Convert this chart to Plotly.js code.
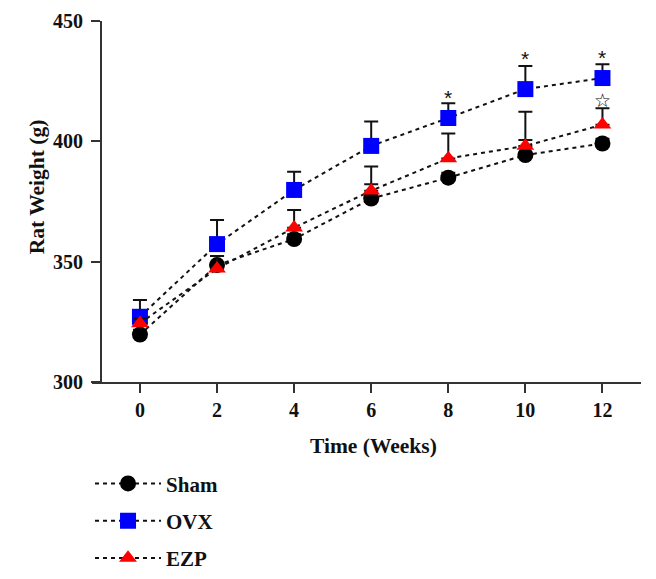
<!DOCTYPE html>
<html>
<head>
<meta charset="utf-8">
<script src="https://cdn.plot.ly/plotly-3.0.1.min.js"></script>
<style>html,body{margin:0;padding:0;background:#fff;}#chart{width:656px;height:579px;}</style>
</head>
<body>
<div id="chart"></div>
<script>
// ---- data ----
const weeks = [0, 2, 4, 6, 8, 10, 12];
const xTickLabels = ['0', '2', '4', '6', '8', '10', '12'];
const yTickVals = [300, 350, 400, 450];

const shamY   = [319.7, 348.6, 359.4, 376.2, 384.9, 394.3, 399.1];
const shamErr = [2, 3.8, 2, 6, 2, 6.3, 2];

const ovxY    = [327.1, 357.3, 379.8, 398.1, 409.7, 421.7, 426.3];
const ovxErr  = [7, 10, 7.6, 10.1, 6.1, 9.6, 5.7];

const ezpY    = [324.4, 347.1, 364.1, 379.5, 392.9, 398.1, 406.9];
const ezpErr  = [2, 5.3, 7.4, 10, 10.4, 14.2, 6.8];

const seriesNames = ['Sham', 'OVX', 'EZP'];

// significance marks
const sigX    = [8, 10, 12, 12];
const sigY    = [419.7, 435.9, 436.5, 417.2];
const sigText = ['*', '*', '*', '\u2606'];

// ---- styling ----
const serif = 'Liberation Serif, Times New Roman, serif';
const axisColor = '#333';
const lineStyle = {color: '#111', width: 2, dash: '4px,4px'};

function mk(name, y, err, symbol, color, size, group) {
  return {
    type: 'scatter', mode: 'lines+markers', name: name, x: weeks, y: y,
    legendgroup: group,
    line: lineStyle,
    marker: {symbol: symbol, color: color, size: size, line: {width: 0}},
    error_y: {type: 'data', symmetric: false, array: err, arrayminus: err.map(() => 0),
              color: '#111', thickness: 2, width: 7},
    cliponaxis: false
  };
}

const traces = [
  mk(seriesNames[0], shamY, shamErr, 'circle', '#000000', 16, 'g1'),
  mk(seriesNames[1], ovxY, ovxErr, 'square', '#0000ff', 16, 'g2'),
  mk(seriesNames[2], ezpY, ezpErr, 'triangle-up', '#ff0000', 15.5, 'g3')
];

const annotations = sigX.map((x, i) => ({
  x: x, y: sigY[i], xref: 'x', yref: 'y', text: sigText[i], showarrow: false,
  xanchor: 'center', yanchor: 'middle',
  font: sigText[i] === '*' ? {family: 'Liberation Sans, Arial, sans-serif', size: 21, color: '#111'}
                           : {family: 'DejaVu Sans, sans-serif', size: 19, color: '#000'},
  yshift: sigText[i] === '*' ? -4 : 0
}));

annotations.push({
  text: 'Time (Weeks)', xref: 'x', yref: 'paper', x: 6.05, y: -0.177,
  xanchor: 'center', yanchor: 'middle', showarrow: false,
  font: {family: serif, size: 21.5, weight: 'bold', color: '#111'}
});
annotations.push({
  text: 'Rat Weight (g)', xref: 'paper', yref: 'paper', x: -0.1, y: 0.54,
  xanchor: 'center', yanchor: 'middle', textangle: -90, showarrow: false,
  font: {family: serif, size: 21.5, weight: 'bold', color: '#111'}
});

const layout = {
  width: 656, height: 579,
  margin: {l: 92, r: 15, t: 21, b: 197, autoexpand: false},
  paper_bgcolor: '#fff', plot_bgcolor: '#fff',
  showlegend: true,
  legend: {
    x: -0.0036, xanchor: 'left', y: -0.225, yanchor: 'top',
    font: {family: serif, size: 21, weight: 'bold', color: '#111'},
    itemwidth: 66, traceorder: 'grouped', tracegroupgap: 7,
    bgcolor: 'rgba(0,0,0,0)'
  },
  xaxis: {
    range: [-1.244, 13.0], tickvals: weeks, ticktext: xTickLabels,
    showline: true, linewidth: 2, linecolor: axisColor,
    ticks: 'outside', ticklen: 9, tickwidth: 2, tickcolor: axisColor,
    showgrid: false, zeroline: false,
    tickfont: {family: serif, size: 20, weight: 'bold', color: '#111'}
  },
  yaxis: {
    range: [300, 450], tickvals: yTickVals,
    anchor: 'free', position: 0.0164,
    showline: true, linewidth: 2, linecolor: axisColor,
    ticks: 'outside', ticklen: 9, tickwidth: 2, tickcolor: axisColor,
    ticklabelstandoff: 4,
    showgrid: false, zeroline: false,
    tickfont: {family: serif, size: 20, weight: 'bold', color: '#111'}
  },
  annotations: annotations
};

Plotly.newPlot('chart', traces, layout, {displayModeBar: false, staticPlot: true});
</script>
</body>
</html>
